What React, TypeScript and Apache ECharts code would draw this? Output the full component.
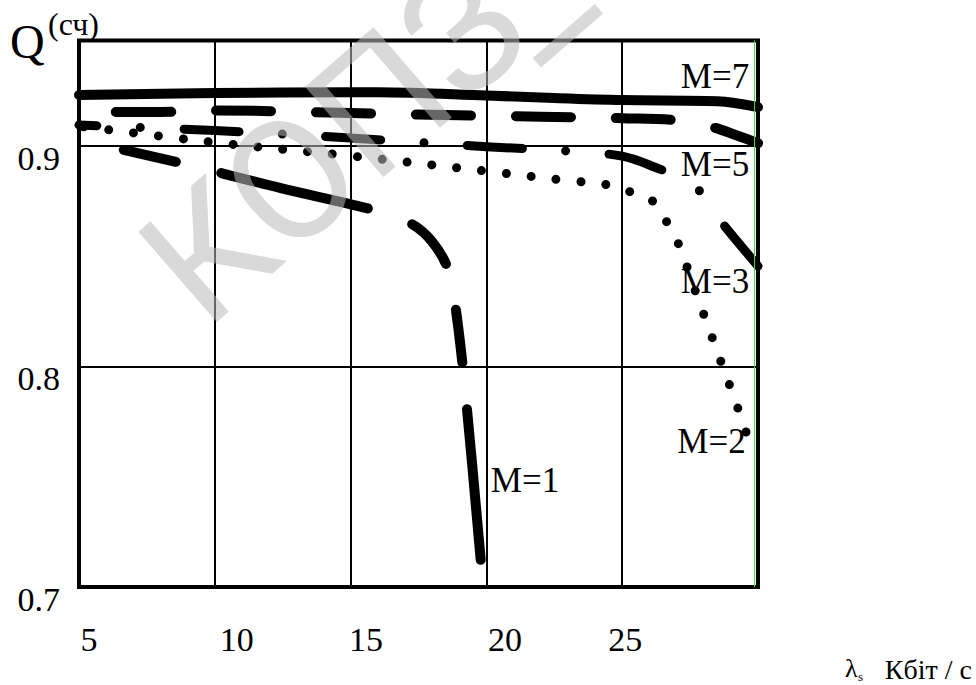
import React, { useEffect, useRef } from "react";
import * as echarts from "echarts";

// ---- data ----
const xTickLabels = [5, 10, 15, 20, 25];
const yTickLabels = [0.7, 0.8, 0.9];

const m7X = [5, 10, 15, 16, 20, 22.5, 25, 28.5, 30];
const m7Y = [0.9229, 0.9238, 0.9242, 0.9242, 0.9227, 0.9215, 0.9206, 0.9201, 0.9174];

const m5X = [5, 8, 10, 15, 18.5, 22, 25, 27, 28.3, 29.2, 30];
const m5Y = [0.9152, 0.9152, 0.9159, 0.9147, 0.9138, 0.9131, 0.9124, 0.9115, 0.9084, 0.9047, 0.9011];

const m3X = [5, 10, 15, 20, 23.5, 25, 26, 27.65, 28.53, 30];
const m3Y = [0.9093, 0.9068, 0.9034, 0.8995, 0.8971, 0.8952, 0.8912, 0.8817, 0.8672, 0.8454];

const m2X = [5, 10, 15, 20, 23, 24.3, 25.2, 26.03, 26.62, 27.06, 27.68, 28.6, 29.23, 29.85];
const m2Y = [0.9088, 0.9014, 0.8953, 0.8884, 0.8841, 0.8826, 0.8794, 0.8758, 0.8658, 0.8558, 0.8345, 0.8033, 0.782, 0.7596];

const m1X = [5, 8.75, 12.43, 15.85, 17.2, 18.0, 18.6, 18.9, 19.25, 19.8];
const m1Y = [0.9025, 0.8921, 0.8807, 0.8708, 0.8648, 0.8565, 0.8435, 0.8235, 0.7850, 0.7109];

const curveNames = ["M=7", "M=5", "M=3", "M=2", "M=1"];
const yTitle = "Q";
const yTitleSup = "(сч)";
const xTitleMain = "λ";
const xTitleSub = "s";
const xTitleUnit = "Кбіт / с";
const watermark = "КОПЗ";
const watermarkDash = "–";

const SERIF = "Liberation Serif";

function pairs(xs: number[], ys: number[]) {
  return xs.map((x, i) => [x, ys[i]]);
}

export default function App() {
  const ref = useRef<HTMLDivElement>(null);
  useEffect(() => {
    if (!ref.current) return;
    const chart = echarts.init(ref.current, undefined, { renderer: "svg" });

    const base = (name: string, xs: number[], ys: number[], ls: any, extra: any = {}) => ({
      type: "line",
      name,
      data: pairs(xs, ys),
      showSymbol: false,
      symbol: "none",
      smooth: 0.35,
      clip: false,
      silent: true,
      lineStyle: { color: "#000", cap: "round", join: "round", ...ls },
      ...extra,
    });

    const xShift: Record<number, number> = { 5: 20, 10: 44, 15: 31, 20: 37, 25: 6 };
    const rich: any = {};
    xTickLabels.forEach((t) => {
      rich["t" + t] = {
        fontSize: 34,
        fontFamily: SERIF,
        color: "#000",
        lineHeight: 34,
        padding: [0, 0, 0, xShift[t]],
      };
    });

    const txt = (text: string, x: number, y: number, size: number, align = "center", family = SERIF) => ({
      type: "text",
      x,
      y,
      z: 50,
      silent: true,
      style: { text, fontSize: size, fontFamily: family, fill: "#000", align, verticalAlign: "middle" },
    });

    const wmStyle = {
      fontSize: 168,
      fontFamily: "Roboto",
      fill: "rgba(185,185,185,0.55)",
      align: "left",
      verticalAlign: "middle",
    };
    const wmRot = (41 * Math.PI) / 180;

    const option: any = {
      animation: false,
      backgroundColor: "#fff",
      textStyle: { fontFamily: SERIF },
      grid: {
        left: 79,
        top: 40.5,
        width: 679,
        height: 546.5,
        show: true,
        borderColor: "#000",
        borderWidth: 4,
        containLabel: false,
        outerBoundsMode: "none",
      },
      xAxis: {
        type: "value",
        min: 5,
        max: 30,
        interval: 5,
        axisLine: { show: false },
        axisTick: { show: false },
        splitLine: { show: true, lineStyle: { color: "#000", width: 2 } },
        axisLabel: {
          margin: 35.5,
          fontSize: 34,
          fontFamily: SERIF,
          color: "#000",
          lineHeight: 34,
          rich,
          formatter: (v: number) => {
            const r = Math.round(v);
            if (Math.abs(v - r) > 1e-6 || xTickLabels.indexOf(r) < 0) return "";
            return `{t${r}|${r}}`;
          },
        },
      },
      yAxis: {
        type: "value",
        min: 0.7,
        max: 0.9476,
        interval: 0.1,
        axisLine: { show: false },
        axisTick: { show: false },
        splitLine: { show: true, lineStyle: { color: "#000", width: 2 } },
        axisLabel: {
          margin: 19,
          fontSize: 34,
          fontFamily: SERIF,
          color: "#000",
          verticalAlign: "top",
          lineHeight: 25,
          showMaxLabel: false,
          formatter: (v: number) => {
            const hit = yTickLabels.find((t) => Math.abs(t - v) < 1e-6);
            return hit === undefined ? "" : hit.toFixed(1);
          },
        },
      },
      series: [
        base(curveNames[0], m7X, m7Y, { width: 10, type: "solid" }, {
          markLine: {
            silent: true,
            symbol: ["none", "none"],
            label: { show: false },
            lineStyle: { color: "#33dd33", width: 1, type: "solid", cap: "butt" },
            data: [{ xAxis: 29.853 }],
          },
        }),
        base(curveNames[1], m5X, m5Y, { width: 10, type: [55, 45], dashOffset: 63 }),
        base(curveNames[2], m3X, m3Y, { width: 9, type: [55, 43.5, 0, 43.5], dashOffset: 37 }),
        base(curveNames[3], m2X, m2Y, { width: 9, type: [0, 25], dashOffset: 20 }),
        base(curveNames[4], m1X, m1Y, { width: 10, type: [53, 47, 151, 47, 53, 47], dashOffset: 352 }),
      ],
      graphic: [
        txt(yTitle, 10, 41, 48, "left"),
        txt(yTitleSup, 48, 24, 32, "left"),
        txt(curveNames[0], 715, 76.5, 35),
        txt(curveNames[1], 715, 164.5, 35),
        txt(curveNames[2], 715, 281.5, 35),
        txt(curveNames[3], 711.5, 441.5, 35),
        txt(curveNames[4], 525, 480, 35),
        txt(xTitleMain, 845, 668, 26, "left"),
        txt(xTitleSub, 858, 676, 13, "left"),
        txt(xTitleUnit, 972, 669, 28, "right"),
        {
          type: "text",
          x: 168,
          y: 288,
          rotation: wmRot,
          z: 100,
          silent: true,
          style: { text: watermark, ...wmStyle },
        },
        {
          type: "text",
          x: 570,
          y: 37,
          rotation: wmRot,
          z: 100,
          silent: true,
          style: { text: watermarkDash, ...wmStyle, align: "center" },
        },
      ],
    };
    chart.setOption(option);
    return () => chart.dispose();
  }, []);
  return <div ref={ref} style={{ position: "absolute", left: 0, top: 0, width: 976, height: 685 }} />;
}
